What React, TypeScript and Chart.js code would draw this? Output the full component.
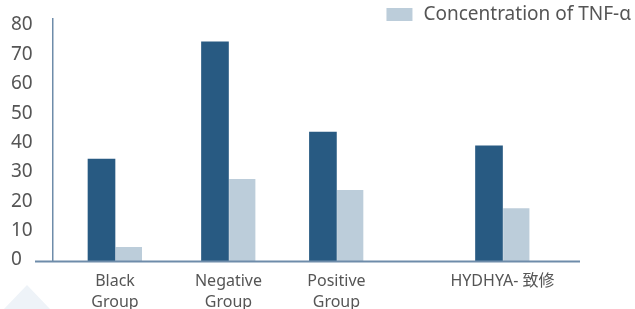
import React, { useEffect, useRef } from 'react';
import { Chart, registerables } from 'chart.js';

Chart.register(...registerables);

// ---- data ----
const categories: string[][] = [['Black', 'Group'], ['Negative', 'Group'], ['Positive', 'Group'], ['HYDHYA- 致修']];
// position of each category group along the (unevenly spaced) x axis, in category units
const categorySlots: number[] = [0, 2.05, 4, 7];
const seriesALabel = 'Concentration';
const seriesA: number[] = [34.7, 74.6, 43.9, 39.2];
const seriesBLabel = 'Concentration of TNF-α';
const seriesB: number[] = [4.8, 27.9, 24.2, 18.0];
const yTickValues: number[] = [0, 10, 20, 30, 40, 50, 60, 70, 80];

const darkColor = '#285a82';
const lightColor = '#bccdda';
const axisColor = '#6e8caa';
const textColor = '#555555';
const fontFamily = '"Noto Sans", "Noto Sans CJK SC", sans-serif';

const decorPlugin = {
  id: 'decor',
  beforeDraw(chart: any) {
    const ctx = chart.ctx;
    ctx.save();
    ctx.fillStyle = '#eef3f8';
    ctx.beginPath();
    ctx.moveTo(3, 310);
    ctx.lineTo(27, 285);
    ctx.lineTo(51, 310);
    ctx.closePath();
    ctx.fill();
    ctx.restore();
  },
  afterDraw(chart: any) {
    const { ctx, chartArea } = chart;
    ctx.save();
    // x axis line (extends left past the y axis)
    ctx.strokeStyle = axisColor;
    ctx.lineWidth = 2;
    ctx.beginPath();
    ctx.moveTo(chartArea.left - 18, chartArea.bottom + 0.5);
    ctx.lineTo(chartArea.right, chartArea.bottom + 0.5);
    ctx.stroke();
    // legend (only the light series is listed)
    const ds = chart.data.datasets[1];
    ctx.font = `19px ${fontFamily}`;
    const w = ctx.measureText(ds.label).width;
    const tx = chart.width - 4 - w;
    ctx.fillStyle = ds.backgroundColor;
    ctx.fillRect(tx - 37, 8, 26, 13);
    ctx.fillStyle = textColor;
    ctx.textAlign = 'left';
    ctx.textBaseline = 'middle';
    ctx.fillText(ds.label, tx, 15);
    ctx.restore();
  },
};

export default function App() {
  const canvasRef = useRef<HTMLCanvasElement | null>(null);

  useEffect(() => {
    if (!canvasRef.current) return;
    const chart = new Chart(canvasRef.current, {
      type: 'bar',
      data: {
        datasets: [
          {
            label: seriesALabel,
            data: categorySlots.map((x, i) => ({ x, y: seriesA[i] })),
            backgroundColor: darkColor,
            barThickness: 27,
            borderWidth: 0,
          },
          {
            label: seriesBLabel,
            data: categorySlots.map((x, i) => ({ x, y: seriesB[i] })),
            backgroundColor: lightColor,
            borderColor: '#ffffff',
            borderWidth: { left: 1, right: 0, top: 0, bottom: 0 },
            borderSkipped: false,
            barThickness: 27,
          },
        ],
      } as any,
      options: {
        animation: false,
        responsive: true,
        maintainAspectRatio: false,
        layout: { padding: { left: 11, right: 55, top: 19, bottom: 0 } },
        plugins: {
          legend: { display: false },
          tooltip: { enabled: false },
        },
        scales: {
          x: {
            type: 'linear',
            offset: false,
            min: -1.12,
            max: 8.4,
            grid: { display: false, drawTicks: false, offset: false },
            border: { display: false },
            afterBuildTicks: (scale: any) => {
              scale.ticks = categorySlots.map((v) => ({ value: v }));
            },
            afterFit: (scale: any) => {
              scale.height = 48;
              scale.paddingLeft = 0;
              scale.paddingRight = 0;
            },
            ticks: {
              autoSkip: false,
              maxRotation: 0,
              minRotation: 0,
              padding: 10,
              color: textColor,
              font: { family: fontFamily, size: 16, lineHeight: 1.3 },
              callback: (_v: any, i: number) => categories[i],
            },
          },
          y: {
            min: 0,
            max: 82.4,
            grid: { display: false, drawTicks: false },
            border: { display: true, color: axisColor, width: 1.5 },
            afterBuildTicks: (scale: any) => {
              scale.ticks = yTickValues.map((v) => ({ value: v }));
            },
            afterFit: (scale: any) => {
              scale.width = 42;
              scale.paddingTop = 0;
              scale.paddingBottom = 0;
            },
            ticks: {
              crossAlign: 'far',
              labelOffset: -1,
              padding: 20,
              color: textColor,
              font: { family: fontFamily, size: 19 },
            },
          },
        },
      } as any,
      plugins: [decorPlugin],
    });
    return () => chart.destroy();
  }, []);

  return (
    <div style={{ position: 'fixed', left: 0, top: 0, width: 635, height: 309, background: '#ffffff' }}>
      <canvas ref={canvasRef} />
    </div>
  );
}
